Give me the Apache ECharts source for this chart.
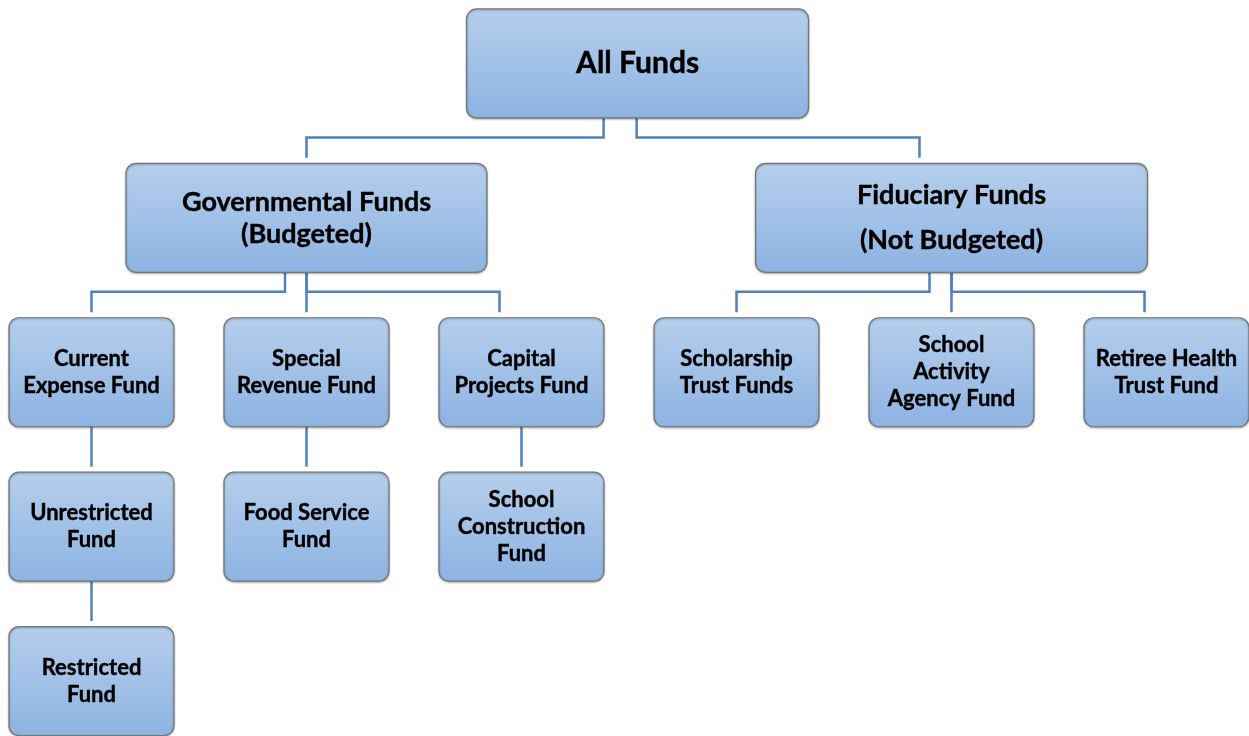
<!DOCTYPE html>
<html>
<head>
<meta charset="utf-8">
<title>All Funds</title>
<style>
    html, body { margin: 0; padding: 0; background: #fff; }
    #chart { width: 1249px; height: 736px; }
</style>
</head>
<body>
<div id="chart"></div>
<script src="https://cdn.jsdelivr.net/npm/echarts@6/dist/echarts.min.js"></script>
<script>
    // one entry per box
    var names = [
        'All Funds',
        'Governmental Funds\n(Budgeted)',
        'Fiduciary Funds\n(Not Budgeted)',
        'Current\nExpense Fund',
        'Special\nRevenue Fund',
        'Capital\nProjects Fund',
        'Scholarship\nTrust Funds',
        'School\nActivity\nAgency Fund',
        'Retiree Health\nTrust Fund',
        'Unrestricted\nFund',
        'Food Service\nFund',
        'School\nConstruction\nFund',
        'Restricted\nFund'
    ];
    // column / level of each box in the tree
    var columns = [2.54, 1, 4, 0, 1, 2, 3, 4, 5, 0, 1, 2, 0];
    var levels = [0, 1, 1, 2, 2, 2, 2, 2, 2, 3, 3, 3, 4];
    // parent box of each box (-1 = root)
    var parents = [-1, 0, 0, 1, 1, 1, 2, 2, 2, 3, 4, 5, 9];

    // look
    var boxWidth = { 0: 342, 1: 361, 2: 392 };
    var boxHeight = 109;
    var fontSizes = [30, 27, 22, 22, 22];
    var lineHeights = { 1: 32, 2: 45 };
    // connector quirks: [dx at parent, dx at child] in px
    var linkOffset = {
        1: [-34, 0], 2: [-1, -32],
        3: [-21.5, 0], 5: [0, -22],
        6: [-22, 0], 8: [0, -22]
    };
    var lineColor = '#4f81bd';

    var chart = echarts.init(document.getElementById('chart'));

    var boxData = [], linkData = [];
    for (var i = 0; i < names.length; i++) {
        boxData.push([columns[i], levels[i], i]);
        if (parents[i] >= 0) linkData.push([columns[i], levels[i], i]);
    }

    var option = {
        animation: false,
        grid: { left: 0, right: 0, top: 0, bottom: 0 },
        xAxis: { type: 'value', min: -0.4256, max: 5.3837, show: false },
        yAxis: { type: 'value', min: -0.411, max: 4.356, inverse: true, show: false },
        series: [
            {
                type: 'custom',
                name: 'links',
                data: linkData,
                renderItem: function (params, api) {
                    var c = api.value(2);
                    var p = parents[c];
                    var pc = api.coord([columns[p], levels[p]]);
                    var cc = api.coord([api.value(0), api.value(1)]);
                    var off = linkOffset[c] || [0, 0];
                    var top = pc[1] + boxHeight / 2;
                    var bus = top + 19.5;
                    var ax = pc[0] + off[0];
                    var dx = cc[0] + off[1];
                    var end = cc[1] - boxHeight / 2 - 5.5;
                    return {
                        type: 'polyline',
                        shape: { points: [[ax, top], [ax, bus], [dx, bus], [dx, end]] },
                        style: { stroke: lineColor, lineWidth: 2.5, fill: 'none' }
                    };
                }
            },
            {
                type: 'custom',
                name: 'boxes',
                data: boxData,
                renderItem: function (params, api) {
                    var i = api.value(2);
                    var c = api.coord([api.value(0), api.value(1)]);
                    var w = boxWidth[i] || 165;
                    var h = boxHeight;
                    return {
                        type: 'group',
                        children: [
                            {
                                type: 'rect',
                                shape: { x: c[0] - w / 2, y: c[1] - h / 2, width: w, height: h, r: 10 },
                                style: {
                                    fill: new echarts.graphic.LinearGradient(0, 0, 0, 1, [
                                        { offset: 0, color: '#b5cfec' },
                                        { offset: 1, color: '#8db3e2' }
                                    ]),
                                    stroke: '#767676',
                                    lineWidth: 1.2,
                                    shadowBlur: 2,
                                    shadowOffsetY: 1,
                                    shadowColor: 'rgba(0,0,0,0.3)'
                                }
                            },
                            {
                                type: 'text',
                                x: c[0],
                                y: c[1],
                                style: {
                                    text: names[i],
                                    fontFamily: 'Lato',
                                    fontWeight: 'bold',
                                    fontSize: fontSizes[levels[i]],
                                    lineHeight: lineHeights[i] || 27,
                                    fill: '#000',
                                    stroke: '#000',
                                    lineWidth: 0.4,
                                    align: 'center',
                                    verticalAlign: 'middle'
                                }
                            }
                        ]
                    };
                }
            }
        ]
    };

    chart.setOption(option);
</script>
</body>
</html>
